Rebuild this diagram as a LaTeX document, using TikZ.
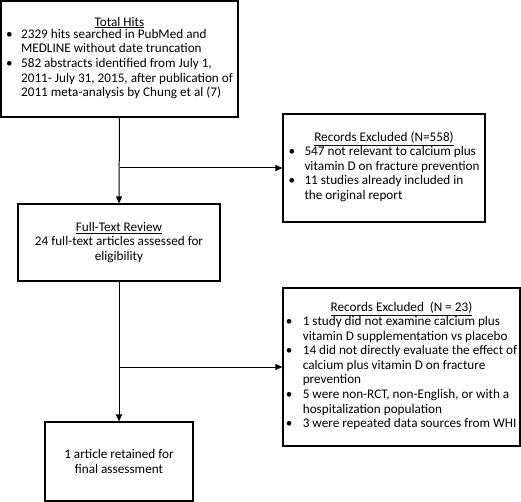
\documentclass[tikz,border=0pt]{standalone}
\usepackage{fontspec}
\setmainfont{Carlito}
\usetikzlibrary{arrows.meta}
\newcommand{\bl}{\textbullet}
\begin{document}
\begin{tikzpicture}[x=1pt,y=-1pt,
  box/.style={draw,line width=1.2pt,rectangle,inner sep=0pt,align=center,
    font=\fontsize{13.2}{14.6}\selectfont},
  arr/.style={line width=1pt,-{Triangle[length=7pt,width=6pt]}}]
\useasboundingbox (0,0) rectangle (521,502);
\node[box,minimum width=237pt,minimum height=116pt] (b1) at (119.5,59) {%
  \underline{Total Hits}\\[-1pt]
  \begin{tabular}{@{}p{15pt}@{}l@{}}
  \bl & 2329 hits searched in PubMed and\\
      & MEDLINE without date truncation\\
  \bl & 582 abstracts identified from July 1,\\
      & 2011- July 31, 2015, after publication of\\
      & 2011 meta-analysis by Chung et al (7)
  \end{tabular}};
\node[box,minimum width=202pt,minimum height=108pt] (b3) at (384,168) {%
  \underline{Records Excluded (N=558)}\\[-1pt]
  \begin{tabular}{@{}p{16pt}@{}l@{}}
  \bl & 547 not relevant to calcium plus\\
      & vitamin D on fracture prevention\\
  \bl & 11 studies already included in\\
      & the original report
  \end{tabular}};
\node[box,minimum width=202pt,minimum height=77pt] (b2) at (119,242.5) {%
  \underline{Full-Text Review}\\
  24 full-text articles assessed for\\
  eligibility};
\node[box,minimum width=237pt,minimum height=158pt] (b4) at (401.5,367) {%
  \underline{Records Excluded\ \ (N = 23)}\\[-1pt]
  \begin{tabular}{@{}p{17pt}@{}l@{}}
  \bl & 1 study did not examine calcium plus\\
      & vitamin D supplementation vs placebo\\
  \bl & 14 did not directly evaluate the effect of\\
      & calcium plus vitamin D on fracture\\
      & prevention\\
  \bl & 5 were non-RCT, non-English, or with a\\
      & hospitalization population\\
  \bl & 3 were repeated data sources from WHI
  \end{tabular}};
\node[box,minimum width=148pt,minimum height=79pt] (b5) at (119,461.5) {%
  1 article retained for\\
  final assessment};
\draw[arr] (b1.south) -- (b2.north);
\draw[arr] (b1.south |- b3.west) -- (b3.west);
\draw[arr] (b2.south) -- (b5.north);
\draw[arr] (b2.south |- b4.west) -- (b4.west);
\end{tikzpicture}
\end{document}
